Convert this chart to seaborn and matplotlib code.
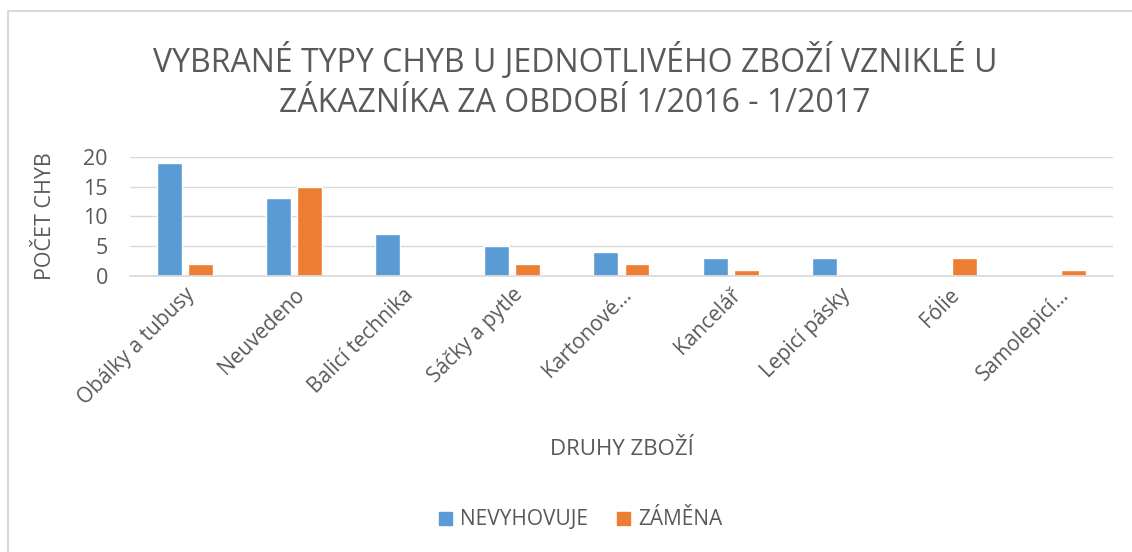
import pandas as pd
import matplotlib.pyplot as plt
import seaborn as sns
from matplotlib.patches import Rectangle
from matplotlib.lines import Line2D

categories = ['Obálky a tubusy', 'Neuvedeno', 'Balicí technika', 'Sáčky a pytle',
              'Kartonové...', 'Kancelář', 'Lepicí pásky', 'Fólie', 'Samolepicí...']
nevyhovuje = [19, 13, 7, 5, 4, 3, 3, 0, 0]
zamena = [2, 15, 0, 2, 2, 1, 0, 3, 1]
series = ['NEVYHOVUJE', 'ZÁMĚNA']

df = pd.DataFrame({
    'druh': categories * 2,
    'typ': [series[0]] * len(categories) + [series[1]] * len(categories),
    'pocet': nevyhovuje + zamena,
})

sns.set_theme(style='white')
plt.rcParams['font.family'] = ['Open Sans', 'DejaVu Sans']
grey = '#595959'
colors = ['#5B9BD5', '#ED7D31']

fig = plt.figure(figsize=(11.32, 5.52), dpi=100)
ax = fig.add_axes([0.115, 0.5, 0.868, 0.216])

sns.barplot(data=df, x='druh', y='pocet', hue='typ', palette=colors,
            width=0.57, gap=0.2, ax=ax, legend=False, saturation=1)

ax.set_ylim(0, 20)
ax.set_yticks([0, 5, 10, 15, 20])
ax.set_xlim(-0.5, len(categories) - 0.5)
ax.yaxis.grid(True, color='#D9D9D9', linewidth=1)
ax.set_axisbelow(True)
for s in ['top', 'right', 'left']:
    ax.spines[s].set_visible(False)
ax.spines['bottom'].set_color('#D9D9D9')
ax.tick_params(axis='both', length=0, colors=grey)
ax.tick_params(axis='y', labelsize=15.5, pad=16)
ax.tick_params(axis='x', labelsize=15, pad=6)
plt.setp(ax.get_xticklabels(), rotation=45, ha='right', rotation_mode='anchor')

ax.set_ylabel('POČET CHYB', fontsize=15.5, color=grey, labelpad=20)
ax.set_xlabel('')

fig.text(0.508, 0.853, 'VYBRANÉ TYPY CHYB U JEDNOTLIVÉHO ZBOŽÍ VZNIKLÉ U\nZÁKAZNÍKA ZA OBDOBÍ 1/2016 - 1/2017',
         ha='center', va='center', fontsize=23, color=grey, linespacing=1.27)
fig.text(0.549, 0.185, 'DRUHY ZBOŽÍ', ha='center', va='center', fontsize=16, color=grey)

handles = [Rectangle((0, 0), 1, 1, color=c) for c in colors]
fig.legend(handles, series, loc='center', bbox_to_anchor=(0.513, 0.058), ncol=2,
           frameon=False, fontsize=15, labelcolor=grey, handlelength=0.6,
           handleheight=0.6, handletextpad=0.4, columnspacing=1.4)

# light frame (top and left only, as in the screenshot)
fig.add_artist(Line2D([0.007, 1.0], [0.980, 0.980], transform=fig.transFigure,
                      color='#D9D9D9', linewidth=1.5))
fig.add_artist(Line2D([0.007, 0.007], [0.0, 0.980], transform=fig.transFigure,
                      color='#D9D9D9', linewidth=1.5))

fig.savefig('out.png', dpi=100, facecolor='white')
